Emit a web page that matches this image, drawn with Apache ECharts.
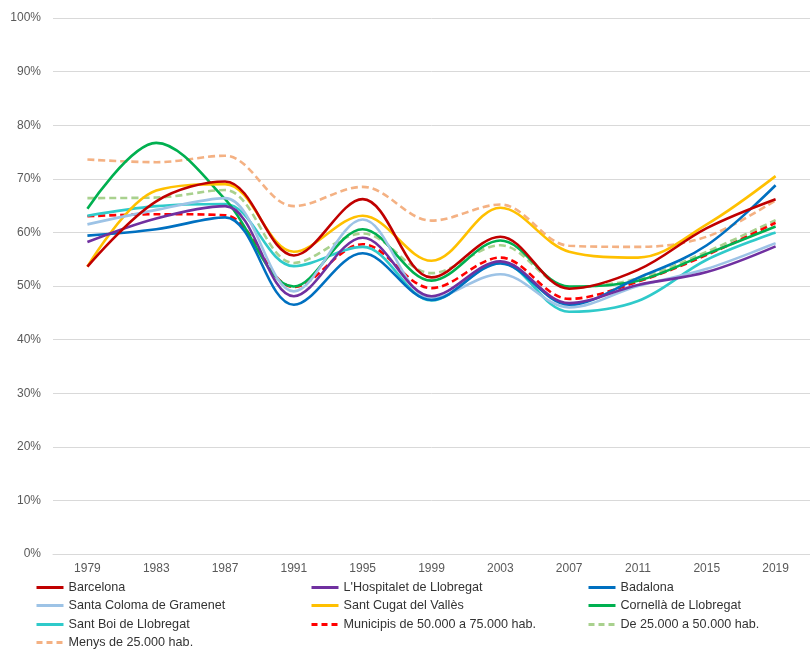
<!DOCTYPE html>
<html><head><meta charset="utf-8">
<script src="https://cdn.jsdelivr.net/npm/echarts@6/dist/echarts.min.js"></script>
<style>html,body{margin:0;padding:0;background:#fff}#c{width:810px;height:649px}</style>
</head><body><div id="c"></div>
<script>
const years = ['1979','1983','1987','1991','1995','1999','2003','2007','2011','2015','2019'];
const barcelona   = [53.6, 65.8, 69.5, 55.7, 66.2, 51.6, 59.2, 49.5, 53.0, 60.8, 66.2];
const hospitalet  = [58.2, 62.6, 64.9, 48.1, 59.0, 48.1, 54.6, 46.8, 50.2, 52.6, 57.4];
const badalona    = [59.4, 60.6, 62.8, 46.5, 56.1, 47.4, 54.2, 46.5, 51.5, 57.6, 68.8];
const santaColoma = [61.5, 64.2, 66.4, 49.0, 62.4, 47.7, 52.2, 46.0, 50.0, 53.2, 58.0];
const santCugat   = [53.6, 67.8, 69.0, 56.4, 63.1, 54.7, 64.6, 56.4, 55.3, 61.5, 70.5];
const cornella    = [64.4, 76.7, 66.2, 49.9, 60.6, 51.0, 58.5, 49.9, 51.0, 56.0, 61.1];
const santBoi     = [63.1, 64.9, 65.3, 53.7, 57.3, 47.3, 54.4, 45.2, 47.2, 54.9, 60.0];
const mun50_75    = [63.0, 63.4, 63.2, 49.8, 57.8, 49.6, 55.3, 47.6, 50.8, 55.8, 61.8];
const mun25_50    = [66.4, 66.5, 67.9, 54.3, 59.8, 52.4, 57.6, 49.8, 51.4, 56.4, 62.3];
const menys25     = [73.6, 73.1, 74.3, 64.9, 68.5, 62.2, 65.2, 57.5, 57.3, 59.2, 66.0];

const names = ['Barcelona', "L'Hospitalet de Llobregat", 'Badalona', 'Santa Coloma de Gramenet',
  'Sant Cugat del Vallès', 'Cornellà de Llobregat', 'Sant Boi de Llobregat',
  'Municipis de 50.000 a 75.000 hab.', 'De 25.000 a 50.000 hab.', 'Menys de 25.000 hab.'];
const values = [barcelona, hospitalet, badalona, santaColoma, santCugat, cornella, santBoi, mun50_75, mun25_50, menys25];
const colors = ['#C00000', '#7030A0', '#0070C0', '#9DC3E6', '#FFC000', '#00B050', '#2FCACA', '#FF0000', '#A9D18E', '#F4B183'];
const dashed = [false, false, false, false, false, false, false, true, true, true];

const font = '"Liberation Sans", Arial, sans-serif';
const series = names.map((n, i) => ({
  name: n, type: 'line', data: values[i], smooth: 0.35, symbol: 'none',
  z: 10 - i,
  lineStyle: { color: colors[i], width: 2.6, type: dashed[i] ? [7, 4] : 'solid', cap: 'butt' },
  itemStyle: { color: colors[i] }
}));
// legend layout: 3 columns x 4 rows
const colX = [35, 310, 587];
const rowY = [581, 599, 618, 636];
const legends = names.map((n, i) => ({
  data: [n], left: colX[i % 3], top: rowY[Math.floor(i / 3)],
  itemWidth: 27, itemHeight: 12, itemGap: 0, padding: 0,
  itemStyle: { opacity: 0 },
  lineStyle: { width: 3, type: dashed[i] ? [6, 4] : 'solid', cap: 'butt' },
  textStyle: { fontFamily: font, fontSize: 12.6, color: '#333333', padding: [0, 0, 0, 0] },
  selectedMode: false
}));

const chart = echarts.init(document.getElementById('c'), null, { renderer: 'canvas' });
chart.setOption({
  animation: false,
  backgroundColor: '#fff',
  grid: { left: 53, width: 779, top: 18, bottom: 95, containLabel: false },
  legend: legends,
  xAxis: {
    type: 'category', data: years, boundaryGap: true,
    axisLine: { show: true, lineStyle: { color: '#D9D9D9', width: 1 } },
    axisTick: { show: false },
    axisLabel: { fontFamily: font, fontSize: 12, color: '#595959', margin: 9 },
    splitLine: { show: false }
  },
  yAxis: {
    type: 'value', min: 0, max: 100, interval: 10,
    axisLine: { show: false }, axisTick: { show: false },
    axisLabel: { formatter: '{value}%', fontFamily: font, fontSize: 12, color: '#595959', margin: 12 },
    splitLine: { lineStyle: { color: '#D9D9D9', width: 1 } }
  },
  series: series
});
</script></body></html>
